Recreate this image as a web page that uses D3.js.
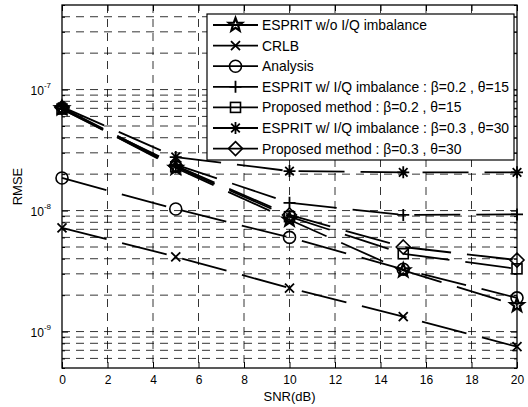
<!DOCTYPE html>
<html><head><meta charset="utf-8">
<script src="https://cdn.jsdelivr.net/npm/d3@7"></script>
<style>body{margin:0;background:#fff}svg{display:block;font-family:"Liberation Sans",Arial,sans-serif}</style>
</head><body><svg id="c" width="528" height="407"></svg>
<script>
// ---- data ----
const snr = [0, 5, 10, 15, 20];
const seriesNames = [
  "ESPRIT w/o I/Q imbalance",
  "CRLB",
  "Analysis",
  "ESPRIT w/ I/Q imbalance : \u03B2=0.2 , \u03B8=15",
  "Proposed method : \u03B2=0.2 , \u03B8=15",
  "ESPRIT w/ I/Q imbalance : \u03B2=0.3 , \u03B8=30",
  "Proposed method : \u03B2=0.3 , \u03B8=30"
];
const espritNoIQ = [7.0e-8, 2.25e-8, 8.4e-9, 3.2e-9, 1.65e-9];
const crlb       = [7.2e-9, 4.15e-9, 2.29e-9, 1.33e-9, 7.5e-10];
const analysis   = [1.86e-8, 1.03e-8, 6.0e-9, 3.27e-9, 1.9e-9];
const esprit02   = [6.9e-8, 2.4e-8, 1.16e-8, 9.2e-9, 9.3e-9];
const proposed02 = [6.9e-8, 2.3e-8, 8.9e-9, 4.4e-9, 3.3e-9];
const esprit03   = [7.2e-8, 2.77e-8, 2.12e-8, 2.07e-8, 2.07e-8];
const proposed03 = [7.1e-8, 2.35e-8, 9.2e-9, 5.0e-9, 3.9e-9];
const seriesValues = [espritNoIQ, crlb, analysis, esprit02, proposed02, esprit03, proposed03];
const markerTypes = ["pentagram", "x", "circle", "plus", "square", "asterisk", "diamond"];
const xTicks = [0, 2, 4, 6, 8, 10, 12, 14, 16, 18, 20];
const yMajorExp = [-9, -8, -7];
const yDomain = [5e-10, 5e-7];
const xLabel = "SNR(dB)";
const yLabel = "RMSE";

// ---- layout ----
const L = 62, R = 517, T = 5, B = 368;
const svg = d3.select("#c");
const x = d3.scaleLinear().domain([0, 20]).range([L, R]);
const y = d3.scaleLog().domain(yDomain).range([B, T]);

const logVals = [];
for (let e = -10; e <= -7; e++) for (let m = 1; m <= 9; m++) {
  const v = m * Math.pow(10, e);
  if (v >= yDomain[0] * 0.999 && v <= yDomain[1] * 1.001) logVals.push(v);
}
const minorVals = logVals.filter(v => !yMajorExp.some(e => Math.abs(v - Math.pow(10, e)) < v * 1e-6));

// ---- grid ----
const grid = svg.append("g").attr("stroke", "#000").attr("stroke-width", 0.8).attr("stroke-dasharray", "8,6");
grid.selectAll("line.v").data(xTicks.filter(t => t > 0 && t < 20)).join("line").attr("class", "v")
  .attr("x1", d => x(d)).attr("x2", d => x(d)).attr("y1", T).attr("y2", B);
grid.selectAll("line.h").data(logVals.filter(v => y(v) > T + 1 && y(v) < B - 1)).join("line").attr("class", "h")
  .attr("x1", L).attr("x2", R).attr("y1", d => y(d)).attr("y2", d => y(d));

// ---- series lines ----
const line = d3.line().x((d, i) => x(snr[i])).y(d => y(d));
svg.append("g").selectAll("path").data(seriesValues).join("path")
  .attr("d", d => line(d)).attr("fill", "none").attr("stroke", "#000")
  .attr("stroke-width", 1.8).attr("stroke-dasharray", "46,16");

// ---- markers ----
function marker(g, type) {
  const s = "#000";
  switch (type) {
    case "pentagram": {
      const pts = [];
      for (let k = 0; k < 10; k++) {
        const r = k % 2 === 0 ? 7 : 2.9;
        const a = -Math.PI / 2 + k * Math.PI / 5;
        pts.push([r * Math.cos(a), r * Math.sin(a)]);
      }
      g.append("polygon").attr("points", pts.map(p => p.join(",")).join(" "))
        .attr("fill", "none").attr("stroke", s).attr("stroke-width", 2.2);
      break;
    }
    case "x":
      g.append("path").attr("d", "M-4.5,-4.5L4.5,4.5M-4.5,4.5L4.5,-4.5").attr("stroke", s).attr("stroke-width", 1.8);
      break;
    case "circle":
      g.append("circle").attr("r", 6).attr("fill", "none").attr("stroke", s).attr("stroke-width", 1.6);
      break;
    case "plus":
      g.append("path").attr("d", "M-6,0L6,0M0,-6L0,6").attr("stroke", s).attr("stroke-width", 1.8);
      break;
    case "square":
      g.append("rect").attr("x", -5).attr("y", -5).attr("width", 10).attr("height", 10)
        .attr("fill", "none").attr("stroke", s).attr("stroke-width", 1.6);
      break;
    case "asterisk":
      g.append("path").attr("d", "M-6,0L6,0M0,-6L0,6M-4.3,-4.3L4.3,4.3M-4.3,4.3L4.3,-4.3").attr("stroke", s).attr("stroke-width", 1.8);
      break;
    case "diamond":
      g.append("path").attr("d", "M0,-7L7,0L0,7L-7,0Z").attr("fill", "none").attr("stroke", s).attr("stroke-width", 1.6);
      break;
  }
}
seriesValues.forEach((vals, si) => {
  vals.forEach((v, i) => {
    const g = svg.append("g").attr("transform", `translate(${x(snr[i])},${y(v)})`);
    marker(g, markerTypes[si]);
  });
});

// ---- axes ----
const axG = svg.append("g");
const axBottom = axG.append("g").attr("transform", `translate(0,${B})`)
  .call(d3.axisBottom(x).tickValues(xTicks).tickSize(-6).tickPadding(7).tickFormat(d3.format("d")));
axG.append("g").attr("transform", `translate(0,${T})`)
  .call(d3.axisTop(x).tickValues(xTicks).tickSize(-6).tickFormat(""));
const majVals = yMajorExp.map(e => Math.pow(10, e));
axG.append("g").attr("transform", `translate(${L},0)`)
  .call(d3.axisLeft(y).tickValues(majVals).tickSize(-6).tickFormat(""));
axG.append("g").attr("transform", `translate(${L},0)`)
  .call(d3.axisLeft(y).tickValues(minorVals).tickSize(-3).tickFormat(""));
axG.append("g").attr("transform", `translate(${R},0)`)
  .call(d3.axisRight(y).tickValues(majVals).tickSize(-6).tickFormat(""));
axG.append("g").attr("transform", `translate(${R},0)`)
  .call(d3.axisRight(y).tickValues(minorVals).tickSize(-3).tickFormat(""));
axG.selectAll(".domain").remove();
axG.selectAll(".tick line").attr("stroke", "#000").attr("stroke-width", 1);
axBottom.selectAll("text").attr("font-size", 12).attr("fill", "#000").attr("font-family", "Liberation Sans, Arial, sans-serif");

svg.append("rect").attr("x", L).attr("y", T).attr("width", R - L).attr("height", B - T)
  .attr("fill", "none").attr("stroke", "#000").attr("stroke-width", 1.3);

// y tick labels 10^n
yMajorExp.forEach(e => {
  const t = svg.append("text").attr("x", 51).attr("y", y(Math.pow(10, e)) + 5)
    .attr("text-anchor", "end").attr("font-size", 12).attr("fill", "#000");
  t.append("tspan").text("10");
  t.append("tspan").attr("font-size", 8).attr("dy", -7).text(String(e));
});

// axis labels
svg.append("text").attr("x", (L + R) / 2).attr("y", 401).attr("text-anchor", "middle")
  .attr("font-size", 13).attr("fill", "#000").text(xLabel);
svg.append("text").attr("transform", `translate(22,${(T + B) / 2}) rotate(-90)`).attr("text-anchor", "middle")
  .attr("font-size", 13).attr("fill", "#000").text(yLabel);

// ---- legend ----
const lg = svg.append("g");
const lx0 = 207, ly0 = 14, lx1 = 514, ly1 = 160;
lg.append("rect").attr("x", lx0).attr("y", ly0).attr("width", lx1 - lx0).attr("height", ly1 - ly0)
  .attr("fill", "#fff").attr("stroke", "#000").attr("stroke-width", 1.2);
seriesNames.forEach((name, i) => {
  const cy = 25 + i * 20.6;
  lg.append("line").attr("x1", 213).attr("x2", 258).attr("y1", cy).attr("y2", cy)
    .attr("stroke", "#000").attr("stroke-width", 1.8);
  const g = lg.append("g").attr("transform", `translate(235.5,${cy})`);
  marker(g, markerTypes[i]);
  lg.append("text").attr("x", 262).attr("y", cy + 5).attr("font-size", 13.9).attr("fill", "#000").text(name);
});
</script></body></html>
